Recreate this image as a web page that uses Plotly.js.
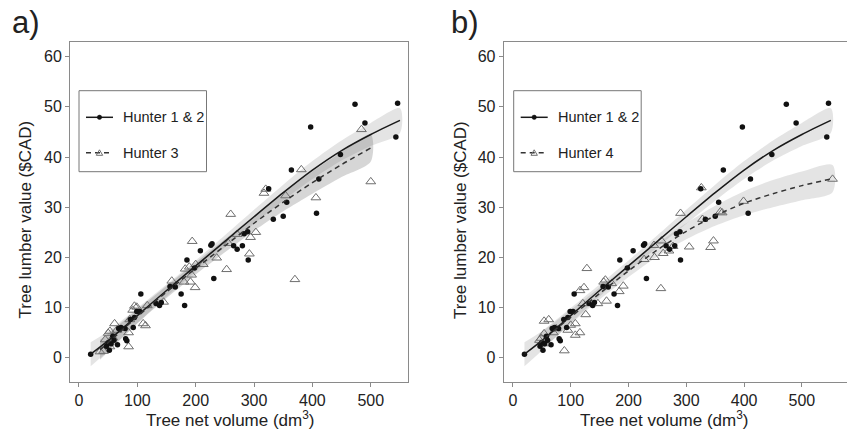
<!DOCTYPE html>
<html><head><meta charset="utf-8">
<script src="https://cdn.plot.ly/plotly-3.0.1.min.js"></script>
<style>html,body{margin:0;padding:0;background:#fff;}#chart{width:847px;height:438px;}</style>
</head><body><div id="chart"></div>
<script>
// ---- data ----
const h12X = [20,47,50,52,55,58,60,66,68,72,79,80,82,88,93,95,99,104,106,132,138,141,156,165,175,181,185,198,208,226,228,231,265,271,280,283,289,290,325,333,350,356,364,397,407,411,448,473,490,543,546];
const h12Y = [0.7,2.3,3.0,1.5,2.8,4.3,3.5,2.6,5.8,6.0,5.8,3.8,3.4,7.6,6.0,8.0,9.2,9.2,12.7,10.8,10.4,11.0,14.2,14.1,12.7,10.4,19.5,17.9,21.3,22.4,22.7,15.8,22.3,21.6,22.3,24.7,25.1,19.5,33.7,27.6,28.2,31.0,37.4,46.0,28.8,35.6,40.5,50.5,46.8,44.0,50.7];

const h3X = [36,42,45,50,53,53,58,61,65,85,85,87,92,95,99,110,114,117,145,159,180,182,189,191,193,194,199,200,213,236,253,256,260,271,292,294,303,317,320,354,370,381,406,484,500];
const h3Y = [1.2,1.3,3.6,4.9,2.2,5.3,4.0,6.8,5.5,2.2,5.0,7.6,9.5,10.3,10.1,6.8,6.4,10.4,11.1,15.3,15.1,17.7,18.1,15.1,16.5,23.2,14.0,18.6,18.6,19.9,17.6,22.8,28.6,24.6,20.7,24.0,25.0,32.8,33.6,32.3,15.6,37.5,31.9,45.5,35.1];

const h4X = [46,49,54,54,58,62,70,75,89,95,100,108,108,116,116,121,123,126,128,147,157,160,162,171,184,191,227,244,245,256,257,260,270,277,290,305,326,328,342,347,359,362,399,553];
const h4Y = [3.5,3.9,7.3,4.8,2.8,7.6,5.0,5.8,1.4,5.5,6.5,6.8,4.5,5.0,13.4,10.8,14.0,8.6,17.8,10.8,15.1,15.5,11.3,14.8,13.2,14.3,19.6,22.4,20.0,13.8,23.3,20.8,21.3,22.2,28.8,22.1,33.9,27.6,22.0,23.3,29.1,28.9,31.2,35.6];

// fitted curves and confidence bands
const fit12X  = [20,50,100,150,200,250,300,350,400,450,500,550];
const fit12Y  = [0.7,3.4,8.4,13.4,18.3,23.2,28.1,32.9,37.4,41.3,44.5,47.3];
const fit12Up = [3.1,5.3,9.9,14.6,19.4,24.4,29.5,34.5,39.2,43.3,46.8,49.7];
const fit12Lo = [-1.7,1.4,6.9,12.2,17.2,22.0,26.7,31.3,35.6,39.3,42.2,44.8];

const fit3X  = [36,50,100,150,200,250,300,350,400,450,500];
const fit3Y  = [1.6,3.0,8.2,13.1,17.8,22.3,26.8,31.0,34.9,38.5,41.8];
const fit3Up = [3.6,4.8,9.6,14.3,19.0,23.6,28.3,32.8,37.1,41.0,44.5];
const fit3Lo = [-0.4,1.2,6.8,11.9,16.6,21.0,25.3,29.2,32.7,36.0,39.1];

const fit4X  = [46,100,150,200,250,300,350,400,450,500,553];
const fit4Y  = [3.0,8.1,12.8,17.3,21.5,25.2,28.3,30.8,32.7,34.3,35.7];
const fit4Up = [4.8,9.5,14.0,18.5,22.8,26.8,30.3,33.2,35.4,37.1,38.4];
const fit4Lo = [1.2,6.7,11.6,16.1,20.2,23.6,26.3,28.4,30.0,31.4,33.0];

const xTicks = [0,100,200,300,400,500];
const yTicks = [0,10,20,30,40,50,60];
const seriesNames = ["Hunter 1 & 2","Hunter 3","Hunter 4"];
const panelLabels = ["a)","b)"];

// ---- helpers ----
const W = 847, H = 438;
const fx = x => x / W, fy = y => 1 - y / H;
const FONT = "Liberation Sans, Arial, Helvetica, sans-serif";
const TXT = "#222";

function band(xs, up, lo, xa, ya, color) {
  return {x: xs.concat(xs.slice().reverse()), y: up.concat(lo.slice().reverse()),
    xaxis: xa, yaxis: ya, type: "scatter", mode: "lines", fill: "toself",
    fillcolor: color, line: {width: 0, shape: "spline", smoothing: 0.8}, hoverinfo: "skip", showlegend: false};
}
function pts(xs, ys, xa, ya, tri) {
  return {x: xs, y: ys, xaxis: xa, yaxis: ya, type: "scatter", mode: "markers", showlegend: false,
    marker: tri ? {symbol: "triangle-up-open", size: 8.5, color: "#6e6e6e", line: {width: 1, color: "#6e6e6e"}}
                : {symbol: "circle", size: 5.5, color: "#111"}};
}
function fitLine(xs, ys, xa, ya, dashed) {
  return {x: xs, y: ys, xaxis: xa, yaxis: ya, type: "scatter", mode: "lines", showlegend: false,
    line: {color: dashed ? "#333" : "#1a1a1a", width: 1.5, dash: dashed ? "5px,4px" : "solid", shape: "spline", smoothing: 0.8}};
}

const BAND1 = "rgba(120,120,120,0.2)";
const BAND3 = "rgba(105,105,105,0.27)";

const traces = [
  band(fit12X, fit12Up, fit12Lo, "x", "y", BAND1),
  band(fit3X, fit3Up, fit3Lo, "x", "y", BAND3),
  pts(h3X, h3Y, "x", "y", true),
  pts(h12X, h12Y, "x", "y", false),
  fitLine(fit12X, fit12Y, "x", "y", false),
  fitLine(fit3X, fit3Y, "x", "y", true),

  band(fit12X, fit12Up, fit12Lo, "x2", "y2", BAND1),
  band(fit4X, fit4Up, fit4Lo, "x2", "y2", BAND1),
  pts(h4X, h4Y, "x2", "y2", true),
  pts(h12X, h12Y, "x2", "y2", false),
  fitLine(fit12X, fit12Y, "x2", "y2", false),
  fitLine(fit4X, fit4Y, "x2", "y2", true)
];

function xAxis(domain, range, anchor) {
  return {domain: domain, range: range, anchor: anchor, tickvals: xTicks, ticks: "outside", ticklen: 4,
    tickcolor: "#8a8a8a", showline: true, mirror: true, linecolor: "#8a8a8a", linewidth: 1,
    showgrid: false, zeroline: false, tickfont: {family: FONT, size: 16, color: TXT}, fixedrange: true};
}
function yAxis(domain, range, anchor, mirror) {
  return {domain: domain, range: range, anchor: anchor, tickvals: yTicks, ticks: "outside", ticklen: 4,
    tickcolor: "#8a8a8a", showline: true, mirror: mirror, linecolor: "#8a8a8a", linewidth: 1,
    showgrid: false, zeroline: false, tickfont: {family: FONT, size: 16, color: TXT}, fixedrange: true};
}

const yDom = [fy(382), fy(42)];
const yRange = [-4.84, 62.93];

const shapes = [], annotations = [];
function legendBox(x0, name2) {
  shapes.push({type: "rect", xref: "paper", yref: "paper", x0: fx(x0), x1: fx(x0 + 127.5), y0: fy(90.7), y1: fy(171.7),
    line: {color: "#777", width: 1}, fillcolor: "rgba(255,255,255,0)"});
  const lx0 = x0 + 7, lx1 = x0 + 34, lc = x0 + 20.5;
  shapes.push({type: "line", xref: "paper", yref: "paper", x0: fx(lx0), x1: fx(lx1), y0: fy(117.3), y1: fy(117.3),
    line: {color: "#1a1a1a", width: 1.5}});
  shapes.push({type: "circle", xref: "paper", yref: "paper", x0: fx(lc - 2.2), x1: fx(lc + 2.2), y0: fy(119.5), y1: fy(115.1),
    line: {color: "#111", width: 0.5}, fillcolor: "#111"});
  shapes.push({type: "line", xref: "paper", yref: "paper", x0: fx(lx0), x1: fx(lx1), y0: fy(152.7), y1: fy(152.7),
    line: {color: "#333", width: 1.5, dash: "5px,4px"}});
  shapes.push({type: "path", xref: "paper", yref: "paper",
    path: `M ${fx(lc - 3.2)} ${fy(155.3)} L ${fx(lc + 3.2)} ${fy(155.3)} L ${fx(lc)} ${fy(149.8)} Z`,
    line: {color: "#6e6e6e", width: 1}, fillcolor: "rgba(255,255,255,0)"});
  annotations.push({xref: "paper", yref: "paper", x: fx(x0 + 42), y: fy(117.3), xanchor: "left", yanchor: "middle",
    text: seriesNames[0], showarrow: false, font: {family: FONT, size: 14.5, color: TXT}});
  annotations.push({xref: "paper", yref: "paper", x: fx(x0 + 42), y: fy(152.7), xanchor: "left", yanchor: "middle",
    text: name2, showarrow: false, font: {family: FONT, size: 14.5, color: TXT}});
}
legendBox(79, seriesNames[1]);
legendBox(513.7, seriesNames[2]);

function titles(yTitleX, xTitleX, labelX, label) {
  annotations.push({xref: "paper", yref: "paper", x: fx(yTitleX), y: fy(220), textangle: -90, xanchor: "center", yanchor: "middle",
    text: "Tree lumber value ($CAD)", showarrow: false, font: {family: FONT, size: 17, color: TXT}});
  annotations.push({xref: "paper", yref: "paper", x: fx(xTitleX), y: fy(419), xanchor: "center", yanchor: "middle",
    text: "Tree net volume (dm<sup>3</sup>)", showarrow: false, font: {family: FONT, size: 17, color: TXT}});
  annotations.push({xref: "paper", yref: "paper", x: fx(labelX), y: fy(22), xanchor: "left", yanchor: "middle",
    text: label, showarrow: false, font: {family: FONT, size: 31, color: TXT}});
}
titles(24.5, 230, 10, panelLabels[0]);
titles(460, 664, 449, panelLabels[1]);

const layout = {
  width: W, height: H, margin: {l: 0, r: 0, t: 0, b: 0}, paper_bgcolor: "#fff", plot_bgcolor: "#fff",
  showlegend: false,
  xaxis: xAxis([fx(70), fx(408)], [-15.4, 563.8], "y"),
  yaxis: yAxis(yDom, yRange, "x", true),
  xaxis2: xAxis([fx(503.7), 1], [-15.9, 578.0], "y2"),
  yaxis2: yAxis(yDom, yRange, "x2", false),
  shapes: shapes, annotations: annotations
};
Plotly.newPlot("chart", traces, layout, {displayModeBar: false, staticPlot: true});
</script></body></html>
